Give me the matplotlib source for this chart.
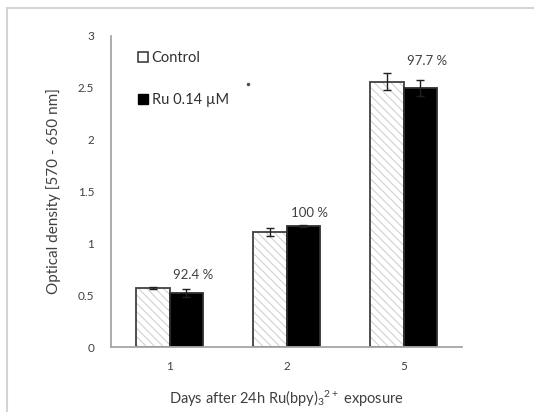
import matplotlib
matplotlib.use("Agg")
import matplotlib.pyplot as plt
import matplotlib.patches as mpatches
import numpy as np

plt.rcParams['font.family'] = ['Lato', 'DejaVu Sans']
plt.rcParams['mathtext.fontset'] = 'custom'
plt.rcParams['mathtext.rm'] = 'Lato'
plt.rcParams['mathtext.it'] = 'Lato'
plt.rcParams['hatch.linewidth'] = 0.7

################ data ###############
days = ['1', '2', '5']
control = [0.565, 1.11, 2.56]
control_err = [0.01, 0.04, 0.08]
ru = [0.52, 1.165, 2.50]
ru_err = [0.04, 0.01, 0.08]
pct_labels = ['92.4 %', '100 %', '97.7 %']

txt = '#404040'
x = np.arange(len(days))
w = 0.29

fig = plt.figure(figsize=(5.34, 4.12), dpi=100)
# light frame round the picture
fig.patches.append(mpatches.Rectangle((7/534, -0.1), 1.2, 1 - 8/412 + 0.1,
                                      transform=fig.transFigure, fill=False,
                                      edgecolor='#d4d4d4', linewidth=1.5))
ax = fig.add_axes([111/534, 1 - 347/412, 351/534, 311/412])

# hatch in light grey, then the dark outline on top
ax.bar(x - w/2, control, w, color='white', edgecolor='#cccccc', linewidth=0,
       hatch='\\\\\\\\', zorder=2)
ax.bar(x - w/2, control, w, fill=False, edgecolor='#404040', linewidth=1.3,
       zorder=2)
ax.bar(x + w/2, ru, w, color='black', edgecolor='#303030', linewidth=1.3,
       zorder=2)
ax.errorbar(x - w/2, control, yerr=control_err, fmt='none', ecolor='#202020',
            elinewidth=1, capsize=3, capthick=1, zorder=3)
ax.errorbar(x + w/2, ru, yerr=ru_err, fmt='none', ecolor='#202020',
            elinewidth=1, capsize=3, capthick=1, zorder=3)

for i in range(len(days)):
    top = max(control[i] + control_err[i], ru[i] + ru_err[i])
    ax.text(x[i] + 0.2, top + 0.12, pct_labels[i], ha='center', va='center',
            fontsize=9.5, color=txt)

# stray dot from the original
ax.plot([0.67], [2.54], 'o', color='#505050', markersize=1.5)

ax.set_xlim(-0.5, 2.5)
ax.set_ylim(0, 3)
ax.set_yticks([0, 0.5, 1, 1.5, 2, 2.5, 3])
ax.set_yticklabels(['0', '0.5', '1', '1.5', '2', '2.5', '3'])
ax.set_xticks(x)
ax.set_xticklabels(days)
ax.tick_params(axis='both', length=0, labelsize=8.5, labelcolor=txt)
ax.tick_params(axis='y', pad=12)
ax.tick_params(axis='x', pad=10)
for s in ['top', 'right']:
    ax.spines[s].set_visible(False)
for s in ['left', 'bottom']:
    ax.spines[s].set_color('#a6a6a6')
    ax.spines[s].set_linewidth(1.3)

ax.set_ylabel('Optical density [570 - 650 nm]', fontsize=11, color=txt, labelpad=12)
ax.set_xlabel(r'Days after 24h Ru(bpy)$_3$$^{2+}$ exposure', fontsize=10.5,
              color=txt, labelpad=12)

h1 = mpatches.Patch(facecolor='white', edgecolor='#404040', linewidth=1.2)
h2 = mpatches.Patch(facecolor='black', edgecolor='black')
leg = ax.legend([h1, h2], ['Control', 'Ru 0.14 \u00b5M'], loc='upper left',
                bbox_to_anchor=(0.06, 0.97), frameon=False, fontsize=10.5,
                handlelength=0.7, handleheight=0.7, handletextpad=0.25,
                labelspacing=1.9, borderaxespad=0)
for t in leg.get_texts():
    t.set_color('#303030')

fig.savefig('out.png', dpi=100)
